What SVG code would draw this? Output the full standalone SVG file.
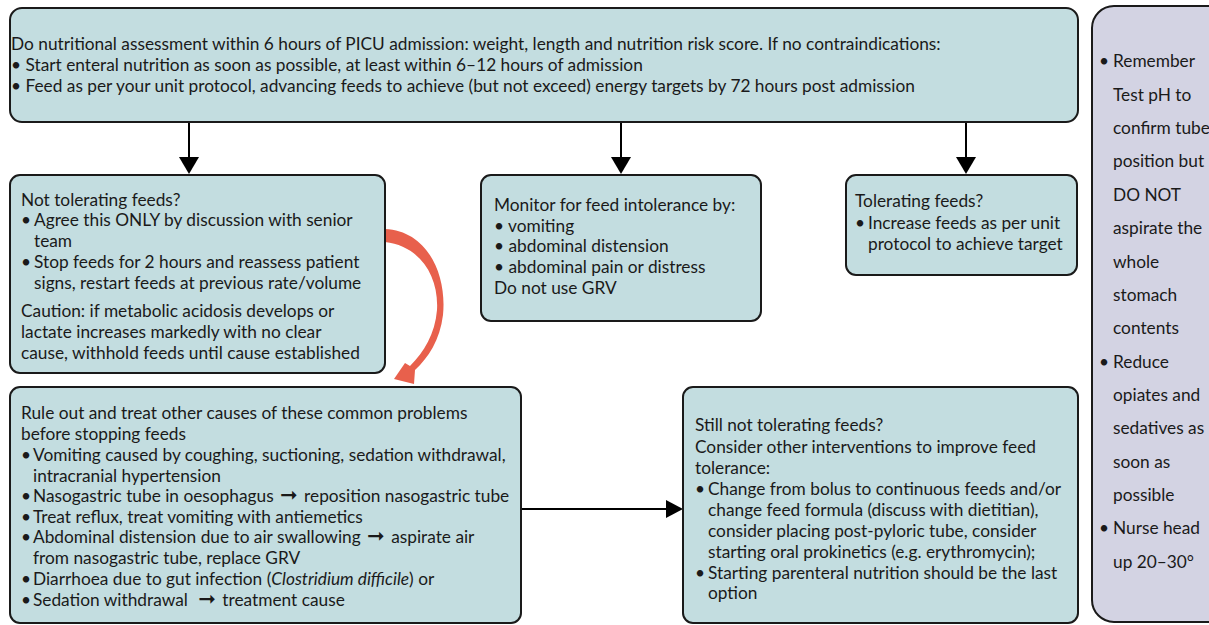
<svg xmlns="http://www.w3.org/2000/svg" width="1209" height="625" viewBox="0 0 1209 625">
<defs>
<style>
.box{fill:#c3dde0;stroke:#1a1a1a;stroke-width:2}
.side{fill:#d3d3e3;stroke:#1a1a1a;stroke-width:2}
text{font-family:Lato,"Liberation Sans",sans-serif;font-size:17.3px;fill:#1a1a1a}
.arr{font-family:"DejaVu Sans",sans-serif;font-size:21px}
.conn{stroke:#000;stroke-width:2;fill:none}
</style>
</defs>
<rect width="1209" height="625" fill="#fff"/>

<g id="connectors">
<line class="conn" x1="189" y1="122" x2="189" y2="158"/>
<path d="M179,157 L199,157 L189,174 Z" fill="#000"/>
<line class="conn" x1="621" y1="122" x2="621" y2="158"/>
<path d="M611,157 L631,157 L621,174 Z" fill="#000"/>
<line class="conn" x1="966" y1="122" x2="966" y2="158"/>
<path d="M956,157 L976,157 L966,174 Z" fill="#000"/>
<line class="conn" x1="521" y1="509" x2="667" y2="509"/>
<path d="M666,500 L683,509 L666,518 Z" fill="#000"/>
<path d="M385,229 C428,231 447,275 443,315 C440,340 428,358 415,370 L414,384 L394,379 L405,363 L410,366 C424,352 435,334 437,310 C439,276 420,246 385,242 Z" fill="#e8604c"/>
</g>

<g id="n-top">
<rect class="box" x="10" y="8" width="1068" height="114" rx="12"/>
<text x="11" y="50">Do nutritional assessment within 6 hours of PICU admission: weight, length and nutrition risk score. If no contraindications:</text>
<text x="11" y="71">• Start enteral nutrition as soon as possible, at least within 6–12 hours of admission</text>
<text x="11" y="92">• Feed as per your unit protocol, advancing feeds to achieve (but not exceed) energy targets by 72 hours post admission</text>
</g>

<g id="n-side">
<rect class="side" x="1092" y="6" width="140" height="616" rx="22"/>
<text x="1099" y="67">•</text><text x="1113" y="67">Remember</text>
<text x="1113" y="100.5">Test pH to</text>
<text x="1113" y="134">confirm tube</text>
<text x="1113" y="167">position but</text>
<text x="1113" y="200.5">DO NOT</text>
<text x="1113" y="234">aspirate the</text>
<text x="1113" y="267.5">whole</text>
<text x="1113" y="301">stomach</text>
<text x="1113" y="334">contents</text>
<text x="1099" y="367.5">•</text><text x="1113" y="367.5">Reduce</text>
<text x="1113" y="401">opiates and</text>
<text x="1113" y="434">sedatives as</text>
<text x="1113" y="467.5">soon as</text>
<text x="1113" y="501">possible</text>
<text x="1099" y="534">•</text><text x="1113" y="534">Nurse head</text>
<text x="1113" y="567.5">up 20–30°</text>
</g>

<g id="n-not-tol">
<rect class="box" x="10" y="175" width="375" height="198" rx="10"/>
<text x="21" y="206">Not tolerating feeds?</text>
<text x="21" y="226">•</text><text x="34" y="226">Agree this ONLY by discussion with senior</text>
<text x="34" y="247">team</text>
<text x="21" y="268">•</text><text x="34" y="268">Stop feeds for 2 hours and reassess patient</text>
<text x="34" y="289">signs, restart feeds at previous rate/volume</text>
<text x="21" y="317">Caution: if metabolic acidosis develops or</text>
<text x="21" y="338">lactate increases markedly with no clear</text>
<text x="21" y="359">cause, withhold feeds until cause established</text>
</g>

<g id="n-monitor">
<rect class="box" x="481" y="175" width="280" height="146" rx="10"/>
<text x="494" y="211">Monitor for feed intolerance by:</text>
<text x="494" y="232">• vomiting</text>
<text x="494" y="252">• abdominal distension</text>
<text x="494" y="273">• abdominal pain or distress</text>
<text x="494" y="294">Do not use GRV</text>
</g>

<g id="n-tol">
<rect class="box" x="846" y="175" width="231" height="100" rx="10"/>
<text x="855" y="207">Tolerating feeds?</text>
<text x="855" y="229">•</text><text x="868" y="229">Increase feeds as per unit</text>
<text x="868" y="250">protocol to achieve target</text>
</g>

<g id="n-rule-out">
<rect class="box" x="10" y="387" width="511" height="236" rx="10"/>
<text x="21" y="419">Rule out and treat other causes of these common problems</text>
<text x="21" y="440">before stopping feeds</text>
<text x="21" y="461">•</text><text x="33" y="461">Vomiting caused by coughing, suctioning, sedation withdrawal,</text>
<text x="33" y="482">intracranial hypertension</text>
<text x="21" y="502">•</text><text x="33" y="502">Nasogastric tube in oesophagus <tspan class="arr" dx="2">➞</tspan><tspan dx="2"> reposition nasogastric tube</tspan></text>
<text x="21" y="523">•</text><text x="33" y="523">Treat reflux, treat vomiting with antiemetics</text>
<text x="21" y="543">•</text><text x="33" y="543">Abdominal distension due to air swallowing <tspan class="arr" dx="2">➞</tspan><tspan dx="2"> aspirate air</tspan></text>
<text x="33" y="564">from nasogastric tube, replace GRV</text>
<text x="21" y="585">•</text><text x="33" y="585">Diarrhoea due to gut infection (<tspan font-style="italic">Clostridium difficile</tspan>) or</text>
<text x="21" y="606">•</text><text x="33" y="606">Sedation withdrawal <tspan class="arr" dx="6">➞</tspan><tspan dx="2"> treatment cause</tspan></text>
</g>

<g id="n-still">
<rect class="box" x="683" y="387" width="395" height="236" rx="10"/>
<text x="695" y="431">Still not tolerating feeds?</text>
<text x="695" y="453">Consider other interventions to improve feed</text>
<text x="695" y="474">tolerance:</text>
<text x="695" y="495">•</text><text x="708" y="495">Change from bolus to continuous feeds and/or</text>
<text x="708" y="516">change feed formula (discuss with dietitian),</text>
<text x="708" y="537">consider placing post-pyloric tube, consider</text>
<text x="708" y="558">starting oral prokinetics (e.g. erythromycin);</text>
<text x="695" y="579">•</text><text x="708" y="579">Starting parenteral nutrition should be the last</text>
<text x="708" y="599">option</text>
</g>
</svg>
